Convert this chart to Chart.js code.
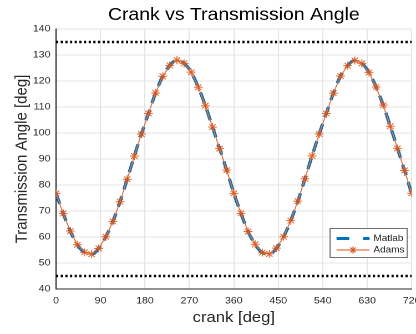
<!DOCTYPE html>
<html>
<head>
<meta charset="utf-8">
<script src="https://cdn.jsdelivr.net/npm/chart.js@4.4.0/dist/chart.umd.min.js"></script>
<style>
  html, body { margin: 0; padding: 0; background: #fff; overflow: hidden; }
  #wrap { width: 385px; height: 334px; transform: scaleX(1.1093); transform-origin: 0 0; }
</style>
</head>
<body>
<div id="wrap"><canvas id="taChart" width="385" height="334"></canvas></div>
<script>
// crank angle samples [deg]
const crankDeg = [
  0, 14.4, 28.8, 43.2, 57.6, 72, 86.4, 100.8, 115.2, 129.6,
  144, 158.4, 172.8, 187.2, 201.6, 216, 230.4, 244.8, 259.2, 273.6,
  288, 302.4, 316.8, 331.2, 345.6, 360, 374.4, 388.8, 403.2, 417.6,
  432, 446.4, 460.8, 475.2, 489.6, 504, 518.4, 532.8, 547.2, 561.6,
  576, 590.4, 604.8, 619.2, 633.6, 648, 662.4, 676.8, 691.2, 705.6, 720
];

// transmission angle [deg]
const matlabTA = [
  76.8, 69.1, 62.3, 57.0, 54.1, 53.4, 55.6, 60.1, 66.0, 73.6,
  82.2, 91.1, 99.6, 107.5, 115.4, 121.8, 126.0, 128.0, 126.8, 123.4,
  117.6, 110.5, 102.3, 94.0, 85.7, 76.8, 69.1, 62.1, 57.2, 54.0,
  53.5, 55.7, 60.1, 66.3, 73.8, 82.4, 91.2, 99.6, 107.5, 115.3,
  121.9, 125.9, 127.9, 126.8, 123.3, 117.7, 110.7, 102.6, 94.1, 85.6, 76.8
];
const adamsTA = [
  76.8, 69.1, 62.3, 57.0, 54.1, 53.4, 55.6, 60.1, 66.0, 73.6,
  82.2, 91.1, 99.6, 107.5, 115.4, 121.8, 126.0, 128.0, 126.8, 123.4,
  117.6, 110.5, 102.3, 94.0, 85.7, 76.8, 69.1, 62.1, 57.2, 54.0,
  53.5, 55.7, 60.1, 66.3, 73.8, 82.4, 91.2, 99.6, 107.5, 115.3,
  121.9, 125.9, 127.9, 126.8, 123.3, 117.7, 110.7, 102.6, 94.1, 85.6, 76.8
];

// limits
const limitHigh = 135;
const limitLow = 45;

const xTicks = [0, 90, 180, 270, 360, 450, 540, 630, 720];
const yTicks = [40, 50, 60, 70, 80, 90, 100, 110, 120, 130, 140];

const matlabBlue = '#0072BD';
const adamsOrange = '#D95319';
const matlabDash = [11, 7];
const axisColor = '#262626';
const gridColor = '#e4e4e4';
const fontFamily = '"Liberation Sans", Arial, Helvetica, sans-serif';

function toPoints(ys) {
  return crankDeg.map((x, i) => ({ x: x, y: ys[i] }));
}
function flatLine(y) {
  return [{ x: xTicks[0], y: y }, { x: xTicks[xTicks.length - 1], y: y }];
}

// legend box in the lower right corner of the plot
const boxLegend = {
  id: 'boxLegend',
  afterDraw(chart) {
    const { ctx, chartArea } = chart;
    const w = 69.5, h = 29;
    const x0 = chartArea.right - 74, y0 = chartArea.bottom - 61;
    ctx.save();
    ctx.fillStyle = '#fff';
    ctx.fillRect(x0, y0, w, h);
    ctx.strokeStyle = '#707070';
    ctx.lineWidth = 1;
    ctx.strokeRect(x0 + 0.5, y0 + 0.5, w, h);

    const sx1 = x0 + 6.3, sx2 = x0 + 36;
    const r1 = y0 + 10.5, r2 = y0 + 22;

    // Matlab sample
    ctx.strokeStyle = matlabBlue;
    ctx.lineWidth = 3;
    ctx.setLineDash([11.5, 12.5]);
    ctx.beginPath();
    ctx.moveTo(sx1, r1);
    ctx.lineTo(sx2, r1);
    ctx.stroke();
    ctx.setLineDash([]);

    // Adams sample
    ctx.strokeStyle = adamsOrange;
    ctx.lineWidth = 1;
    ctx.beginPath();
    ctx.moveTo(sx1, r2);
    ctx.lineTo(sx2, r2);
    ctx.stroke();
    const cx = (sx1 + sx2) / 2, rr = 3.5;
    ctx.beginPath();
    for (let k = 0; k < 4; k++) {
      const a = k * Math.PI / 4;
      ctx.moveTo(cx - rr * Math.cos(a), r2 - rr * Math.sin(a));
      ctx.lineTo(cx + rr * Math.cos(a), r2 + rr * Math.sin(a));
    }
    ctx.stroke();

    ctx.fillStyle = axisColor;
    ctx.font = '9px ' + fontFamily;
    ctx.textBaseline = 'middle';
    ctx.textAlign = 'left';
    ctx.fillText('Matlab', x0 + 39.5, r1);
    ctx.fillText('Adams', x0 + 39.5, r2);
    ctx.restore();
  }
};

new Chart(document.getElementById('taChart'), {
  type: 'line',
  data: {
    datasets: [
      {
        label: 'Adams',
        data: toPoints(adamsTA),
        borderColor: '#E0703F',
        borderWidth: 1,
        pointStyle: 'star',
        pointRadius: 4,
        pointBorderWidth: 1,
        pointBorderColor: 'rgba(217,83,25,0.85)',
        pointBackgroundColor: 'rgba(0,0,0,0)',
        tension: 0,
        order: 0
      },
      {
        label: 'Matlab',
        data: toPoints(matlabTA),
        borderColor: matlabBlue,
        borderWidth: 3,
        borderDash: matlabDash,
        pointRadius: 0,
        cubicInterpolationMode: 'monotone',
        order: 1
      },
      {
        label: 'upper',
        data: flatLine(limitHigh),
        borderColor: '#000',
        borderWidth: 2.5,
        borderDash: [2, 2.2],
        pointRadius: 0,
        order: 2
      },
      {
        label: 'lower',
        data: flatLine(limitLow),
        borderColor: '#000',
        borderWidth: 2.5,
        borderDash: [2, 2.2],
        pointRadius: 0,
        order: 2
      }
    ]
  },
  options: {
    responsive: false,
    animation: false,
    devicePixelRatio: 2,
    layout: { padding: { left: 0, right: 0, top: 0, bottom: 0 } },
    plugins: {
      legend: { display: false },
      tooltip: { enabled: false },
      title: {
        display: true,
        fullSize: false,
        text: 'Crank vs Transmission Angle',
        color: '#000',
        font: { family: fontFamily, size: 17.5, weight: 'normal' },
        padding: { top: 4.5, bottom: 3.5 }
      }
    },
    scales: {
      x: {
        type: 'linear',
        min: 0,
        max: 720,
        afterBuildTicks: s => { s.ticks = xTicks.map(v => ({ value: v })); },
        afterFit: s => { s.height = 45; },
        grid: { color: gridColor, drawTicks: false },
        border: { color: axisColor },
        ticks: {
          color: axisColor,
          font: { family: fontFamily, size: 9.5 },
          padding: 6,
          maxRotation: 0,
          autoSkip: false
        },
        title: {
          display: true,
          text: 'crank [deg]',
          color: axisColor,
          font: { family: fontFamily, size: 15 },
          padding: { top: 0, bottom: 7 }
        }
      },
      y: {
        min: 40,
        max: 140,
        afterBuildTicks: s => { s.ticks = yTicks.map(v => ({ value: v })); },
        afterFit: s => { s.width = 50.5; },
        grid: { color: gridColor, drawTicks: false },
        border: { color: axisColor },
        ticks: {
          color: axisColor,
          font: { family: fontFamily, size: 9.5 },
          padding: 5,
          autoSkip: false
        },
        title: {
          display: true,
          text: 'Transmission Angle [deg]',
          color: axisColor,
          font: { family: fontFamily, size: 15 },
          padding: { top: 11, bottom: 0 }
        }
      }
    }
  },
  plugins: [boxLegend]
});
</script>
</body>
</html>
